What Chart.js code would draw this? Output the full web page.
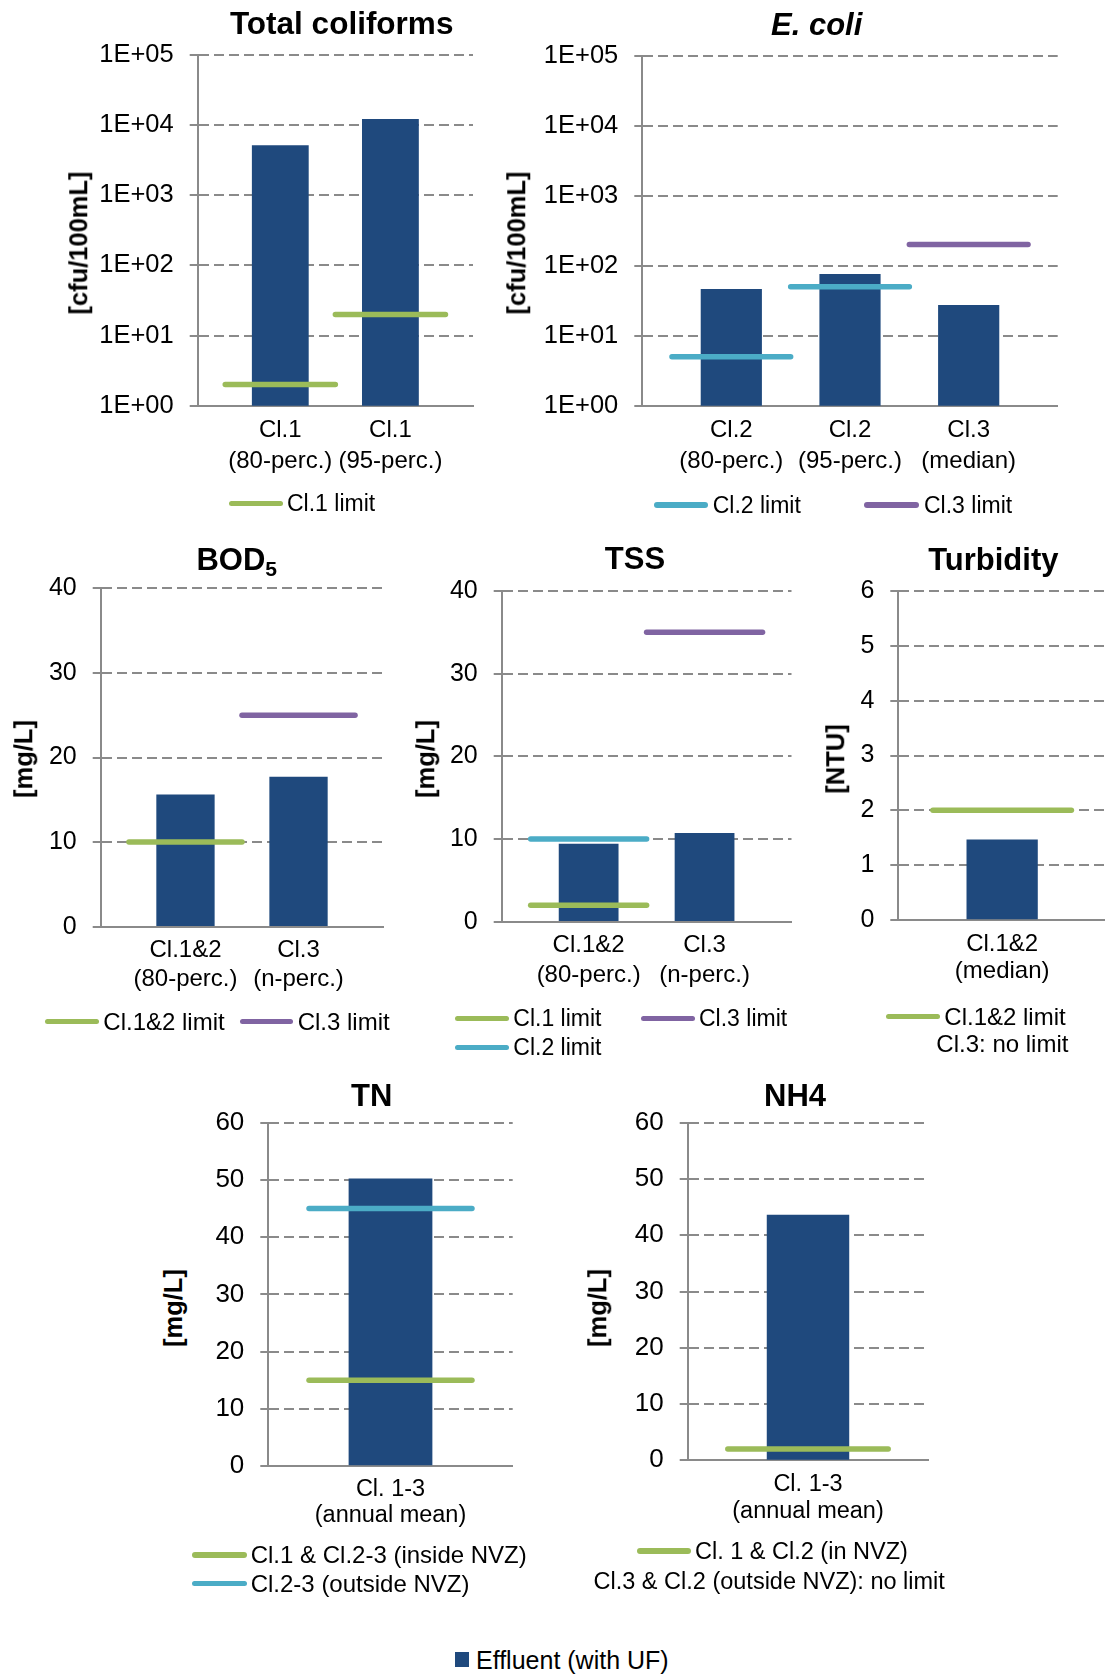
<!DOCTYPE html>
<html>
<head>
<meta charset="utf-8">
<title>Effluent quality vs. reuse class limits</title>
<script src="https://cdn.jsdelivr.net/npm/chart.js@4.4.1/dist/chart.umd.min.js"></script>
<style>
  html, body { margin: 0; padding: 0; background: #fff; }
  body { width: 1105px; height: 1675px; position: relative; overflow: hidden;
         font-family: "Liberation Sans", Arial, Helvetica, sans-serif; color: #000; }
  .txt { position: absolute; white-space: nowrap; line-height: 1; }
  .ctr { transform: translateX(-50%); }
  .ytitle { position: absolute; white-space: nowrap; line-height: 1; font-weight: bold;
            transform: translate(-50%, -50%) rotate(-90deg); }
  .sw { position: absolute; border-radius: 3px; }
  .box { position: absolute; }
  .box canvas { display: block; }
</style>
</head>
<body>
<script>
// ---------- data ----------
const coliCats = [['Cl.1', '(80-perc.)'], ['Cl.1', '(95-perc.)']];
const coliEffluent = [5100, 12100];
const coliCl1Limit = [2, 20];

const ecoliCats = [['Cl.2', '(80-perc.)'], ['Cl.2', '(95-perc.)'], ['Cl.3', '(median)']];
const ecoliEffluent = [46, 75, 27];
const ecoliCl2Limit = [5, 50, null];
const ecoliCl3Limit = [null, null, 200];

const logTicks = [1, 10, 100, 1000, 10000, 100000];
const logTickLabels = ['1E+00', '1E+01', '1E+02', '1E+03', '1E+04', '1E+05'];

const bodCats = [['Cl.1&2', '(80-perc.)'], ['Cl.3', '(n-perc.)']];
const bodEffluent = [15.6, 17.7];
const bodCl12Limit = [10, null];
const bodCl3Limit = [null, 25];

const tssCats = [['Cl.1&2', '(80-perc.)'], ['Cl.3', '(n-perc.)']];
const tssEffluent = [9.4, 10.7];
const tssCl1Limit = [2, null];
const tssCl2Limit = [10, null];
const tssCl3Limit = [null, 35];

const solidsTicks = [0, 10, 20, 30, 40];

const turbCats = [['Cl.1&2', '(median)']];
const turbEffluent = [1.46];
const turbCl12Limit = [2];
const turbTicks = [0, 1, 2, 3, 4, 5, 6];

const tnCats = [['Cl. 1-3', '(annual mean)']];
const tnEffluent = [50.2];
const tnInsideNvzLimit = [15];
const tnOutsideNvzLimit = [45];

const nh4Cats = [['Cl. 1-3', '(annual mean)']];
const nh4Effluent = [43.6];
const nh4NvzLimit = [2];

const nitrogenTicks = [0, 10, 20, 30, 40, 50, 60];

// ---------- styling ----------
const FONT = "'Liberation Sans', Arial, Helvetica, sans-serif";
const BAR = '#1F497D';
const GREEN = '#9BBB59';
const CYAN = '#4BACC6';
const PURPLE = '#8064A2';
const AXIS = '#8A8A8A';
const LIMIT_WIDTH = 5.5;
const PAD_TOP = 44;

Chart.defaults.font.family = FONT;
Chart.defaults.color = '#000';

// a limit is drawn as a flat segment across the width of its category
function limitSegments(values) {
  const pts = [];
  values.forEach((v, i) => {
    if (v === null) return;
    if (pts.length) pts.push({ x: i - 0.5, y: null });
    pts.push({ x: i - 0.5, y: v }, { x: i + 0.5, y: v });
  });
  return pts;
}

function panel(p) {
  const n = p.cats.length;
  const xMin = -0.75, xMax = n - 0.25;
  const unit = (p.geo.R - p.geo.L) / (xMax - xMin);
  const left = Math.floor(p.geo.L - p.wy);
  const top = Math.floor(p.geo.T - PAD_TOP);
  const yWidth = p.geo.L - left;
  const padTop = p.geo.T - top;
  const width = Math.ceil(p.geo.R - left + 4);
  const height = Math.ceil(p.geo.B - top + 86);
  const xHeight = height - (p.geo.B - top);
  const padRight = width - (p.geo.R - left);

  const box = document.createElement('div');
  box.className = 'box';
  box.style.left = left + 'px';
  box.style.top = top + 'px';
  box.style.width = width + 'px';
  box.style.height = height + 'px';
  const canvas = document.createElement('canvas');
  canvas.width = width;
  canvas.height = height;
  canvas.style.width = width + 'px';
  canvas.style.height = height + 'px';
  box.appendChild(canvas);
  document.body.appendChild(box);

  const datasets = p.limits.map(l => ({
    type: 'line',
    data: limitSegments(l.values),
    borderColor: l.color,
    borderWidth: LIMIT_WIDTH,
    borderCapStyle: 'round',
    pointRadius: 0,
    pointHitRadius: 0,
    fill: false,
    spanGaps: false,
    tension: 0,
    order: 0
  }));
  datasets.push({
    type: 'bar',
    label: 'Effluent (with UF)',
    data: p.values.map((v, i) => ({ x: i, y: v })),
    backgroundColor: BAR,
    borderWidth: 0,
    barThickness: 0.51 * unit,
    order: 1
  });

  const pinRange = s => { s.min = xMin; s.max = xMax; };

  new Chart(canvas, {
    type: 'bar',
    data: { datasets },
    options: {
      responsive: false,
      animation: false,
      devicePixelRatio: 1,
      events: [],
      layout: { padding: { top: padTop, right: padRight, left: 0, bottom: 0 } },
      plugins: { legend: { display: false }, tooltip: { enabled: false }, title: { display: false } },
      scales: {
        x: {
          type: 'linear',
          offset: false,
          bounds: 'data',
          grace: 0,
          min: xMin,
          max: xMax,
          afterDataLimits: pinRange,
          afterBuildTicks: s => { s.ticks = p.cats.map((c, i) => ({ value: i })); pinRange(s); },
          afterFit: s => { s.height = xHeight; },
          grid: { display: false, offset: false, drawTicks: false, tickLength: 0 },
          border: { display: true, color: AXIS, width: 2 },
          ticks: {
            autoSkip: false, maxRotation: 0, minRotation: 0,
            color: '#000',
            padding: p.catPad,
            font: { family: FONT, size: p.catSize, lineHeight: p.catLine + 'px' },
            callback: (v, i) => p.cats[i]
          }
        },
        y: {
          type: p.yType,
          min: p.yTicks[0],
          max: p.yTicks[p.yTicks.length - 1],
          afterBuildTicks: s => { s.ticks = p.yTicks.map(v => ({ value: v })); },
          afterFit: s => { s.width = yWidth; },
          grid: { color: AXIS, lineWidth: 2, tickLength: 8, drawTicks: true },
          border: { display: true, color: AXIS, width: 2, dash: [10, 5] },
          ticks: {
            color: '#000',
            padding: 16,
            font: { family: FONT, size: p.tickSize },
            callback: (v, i) => p.yLabels[i]
          }
        }
      }
    }
  });
}

// ---------- html text helpers ----------
function text(str, x, cy, size, o = {}) {
  const d = document.createElement('div');
  d.className = 'txt' + (o.center ? ' ctr' : '');
  d.style.fontSize = size + 'px';
  d.style.left = x + 'px';
  d.style.top = (cy - 0.4885 * size) + 'px';
  if (o.bold) d.style.fontWeight = 'bold';
  if (o.italic) d.style.fontStyle = 'italic';
  if (o.html) d.innerHTML = str; else d.textContent = str;
  document.body.appendChild(d);
}
function yTitle(str, cx, cy, size) {
  const d = document.createElement('div');
  d.className = 'ytitle';
  d.style.fontSize = size + 'px';
  d.style.left = cx + 'px';
  d.style.top = cy + 'px';
  d.textContent = str;
  document.body.appendChild(d);
}
function legendLine(x1, x2, cy, color, label, tx, size) {
  const s = document.createElement('div');
  s.className = 'sw';
  s.style.left = x1 + 'px';
  s.style.width = (x2 - x1) + 'px';
  s.style.top = (cy - LIMIT_WIDTH / 2) + 'px';
  s.style.height = LIMIT_WIDTH + 'px';
  s.style.background = color;
  document.body.appendChild(s);
  text(label, tx, cy, size);
}

// ---------- panels ----------
panel({ geo: { L: 197.7, T: 55, R: 473, B: 405.7 }, wy: 112,
  cats: coliCats, values: coliEffluent,
  limits: [{ values: coliCl1Limit, color: GREEN }],
  yType: 'logarithmic', yTicks: logTicks, yLabels: logTickLabels,
  tickSize: 25.5, catSize: 24, catLine: 31.7, catPad: 8.4 });

panel({ geo: { L: 642.3, T: 55.5, R: 1057.7, B: 405.7 }, wy: 112,
  cats: ecoliCats, values: ecoliEffluent,
  limits: [{ values: ecoliCl2Limit, color: CYAN }, { values: ecoliCl3Limit, color: PURPLE }],
  yType: 'logarithmic', yTicks: logTicks, yLabels: logTickLabels,
  tickSize: 25.5, catSize: 24, catLine: 31.7, catPad: 8.4 });

panel({ geo: { L: 100.7, T: 588.3, R: 383.3, B: 926.7 }, wy: 90,
  cats: bodCats, values: bodEffluent,
  limits: [{ values: bodCl12Limit, color: GREEN }, { values: bodCl3Limit, color: PURPLE }],
  yType: 'linear', yTicks: solidsTicks, yLabels: solidsTicks.map(String),
  tickSize: 25, catSize: 24, catLine: 29.3, catPad: 8.6 });

panel({ geo: { L: 501.7, T: 591, R: 791.5, B: 921.7 }, wy: 90,
  cats: tssCats, values: tssEffluent,
  limits: [{ values: tssCl1Limit, color: GREEN }, { values: tssCl2Limit, color: CYAN }, { values: tssCl3Limit, color: PURPLE }],
  yType: 'linear', yTicks: solidsTicks, yLabels: solidsTicks.map(String),
  tickSize: 25, catSize: 24, catLine: 30, catPad: 8.3 });

panel({ geo: { L: 898.3, T: 591, R: 1106, B: 920 }, wy: 60,
  cats: turbCats, values: turbEffluent,
  limits: [{ values: turbCl12Limit, color: GREEN }],
  yType: 'linear', yTicks: turbTicks, yLabels: turbTicks.map(String),
  tickSize: 25, catSize: 24, catLine: 27.7, catPad: 10.1 });

panel({ geo: { L: 268.3, T: 1122.7, R: 512.7, B: 1466 }, wy: 80,
  cats: tnCats, values: tnEffluent,
  limits: [{ values: tnInsideNvzLimit, color: GREEN }, { values: tnOutsideNvzLimit, color: CYAN }],
  yType: 'linear', yTicks: nitrogenTicks, yLabels: nitrogenTicks.map(String),
  tickSize: 26, catSize: 23.5, catLine: 26, catPad: 10.3 });

panel({ geo: { L: 687.7, T: 1122.7, R: 928.3, B: 1460.3 }, wy: 80,
  cats: nh4Cats, values: nh4Effluent,
  limits: [{ values: nh4NvzLimit, color: GREEN }],
  yType: 'linear', yTicks: nitrogenTicks, yLabels: nitrogenTicks.map(String),
  tickSize: 26, catSize: 23.5, catLine: 27, catPad: 10.5 });

// ---------- titles ----------
text('Total coliforms', 341.7, 23.7, 31.5, { center: true, bold: true });
text('E. coli', 816.7, 23.7, 31, { center: true, bold: true, italic: true });
text('BOD<span style="font-size:0.68em;vertical-align:-0.27em">5</span>', 236.7, 559, 31, { center: true, bold: true, html: true });
text('TSS', 635, 558.5, 31, { center: true, bold: true });
text('Turbidity', 993.3, 559, 31, { center: true, bold: true });
text('TN', 371.7, 1095, 31, { center: true, bold: true });
text('NH4', 795, 1095, 31, { center: true, bold: true });

// ---------- axis titles ----------
yTitle('[cfu/100mL]', 78.5, 242.5, 25.5);
yTitle('[cfu/100mL]', 517.4, 243, 25.5);
yTitle('[mg/L]', 24, 758.5, 25.5);
yTitle('[mg/L]', 425.8, 759, 25.5);
yTitle('[NTU]', 835.7, 759, 25.5);
yTitle('[mg/L]', 174.2, 1307.5, 25.5);
yTitle('[mg/L]', 598.3, 1307.5, 25.5);

// ---------- legends ----------
legendLine(229, 283, 503.5, GREEN, 'Cl.1 limit', 287, 23);

legendLine(654.3, 708.3, 505, CYAN, 'Cl.2 limit', 712.7, 23);
legendLine(864.3, 919.3, 505, PURPLE, 'Cl.3 limit', 924, 23);

legendLine(45, 99, 1021.7, GREEN, 'Cl.1&2 limit', 103.3, 24);
legendLine(240, 293.3, 1021.7, PURPLE, 'Cl.3 limit', 297.7, 24);

legendLine(455, 509.3, 1018.3, GREEN, 'Cl.1 limit', 513.3, 23);
legendLine(640.7, 695, 1018.3, PURPLE, 'Cl.3 limit', 699, 23);
legendLine(455, 509.3, 1047.3, CYAN, 'Cl.2 limit', 513.3, 23);

legendLine(886, 940, 1016.7, GREEN, 'Cl.1&2 limit', 944.3, 24);
text('Cl.3: no limit', 1002.4, 1044, 24, { center: true });

legendLine(191.7, 246.7, 1555, GREEN, 'Cl.1 & Cl.2-3 (inside NVZ)', 250.7, 24);
legendLine(191.7, 246.7, 1583.3, CYAN, 'Cl.2-3 (outside NVZ)', 250.7, 24);

legendLine(636.7, 691, 1551, GREEN, 'Cl. 1 & Cl.2 (in NVZ)', 695, 23.5);
text('Cl.3 & Cl.2 (outside NVZ): no limit', 769.2, 1581.7, 23.5, { center: true });

// shared series key
(function () {
  const sq = document.createElement('div');
  sq.style.cssText = 'position:absolute;left:455px;top:1652px;width:14px;height:15px;background:' + BAR + ';';
  document.body.appendChild(sq);
  text('Effluent (with UF)', 476, 1660, 25);
})();
</script>
</body>
</html>
